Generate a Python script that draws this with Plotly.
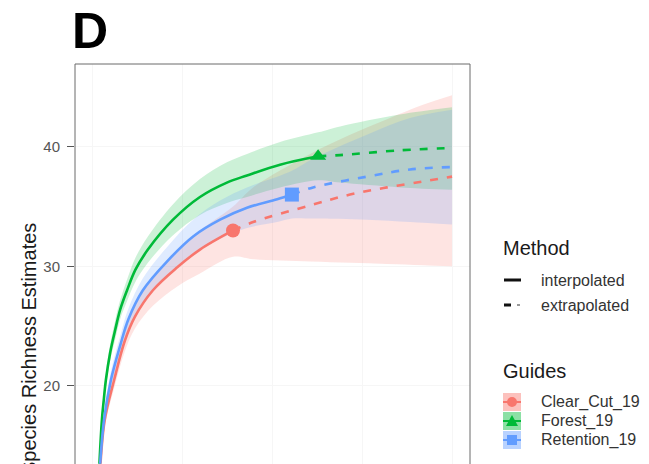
import plotly.graph_objects as go

# ---------------- data ----------------
guides = ["Clear_Cut_19", "Forest_19", "Retention_19"]
line_colors = ["#F8766D", "#00BA38", "#619CFF"]
band_colors = ["rgba(248,118,109,0.2)", "rgba(0,186,56,0.2)", "rgba(97,156,255,0.2)"]
key_colors = ["rgba(248,118,109,0.45)", "rgba(0,186,56,0.45)", "rgba(97,156,255,0.45)"]
symbols = ["circle", "triangle-up", "square"]

# Clear_Cut_19
cc_int_x = [21, 33, 59, 89, 117, 167, 234, 298, 390]
cc_int_y = [13.5, 17.2, 20.5, 23.8, 25.8, 28.0, 29.9, 31.4, 33.0]
cc_int_lo = [13.0, 16.6, 19.8, 22.9, 24.8, 26.7, 28.3, 29.4, 30.8]
cc_int_hi = [14.0, 17.8, 21.2, 24.6, 26.7, 29.1, 31.3, 33.0, 35.0]
cc_ext_x = [390, 446, 605, 716, 819, 919, 1000]
cc_ext_y = [33.0, 33.7, 35.1, 36.0, 36.6, 37.1, 37.5]
cc_ext_lo = [30.8, 30.6, 30.4, 30.3, 30.2, 30.1, 30.0]
cc_ext_hi = [35.0, 36.6, 39.4, 41.0, 42.3, 43.5, 44.3]

# Forest_19
fo_int_x = [18, 25, 30, 36, 48, 62, 76, 95, 118, 153, 223, 298, 373, 429, 521, 627]
fo_int_y = [13.5, 17.2, 18.8, 20.5, 22.8, 24.7, 26.4, 28.0, 29.7, 31.4, 33.9, 35.8, 37.0, 37.6, 38.5, 39.2]
fo_int_lo = [13.0, 16.7, 18.2, 19.9, 22.1, 23.9, 25.6, 27.1, 28.7, 30.3, 32.6, 34.3, 35.3, 35.8, 36.6, 37.2]
fo_int_hi = [14.0, 17.7, 19.4, 21.1, 23.5, 25.5, 27.2, 28.9, 30.7, 32.5, 35.2, 37.3, 38.7, 39.4, 40.4, 41.2]
fo_ext_x = [627, 688, 855, 1000]
fo_ext_y = [39.2, 39.3, 39.7, 39.9]
fo_ext_lo = [37.2, 37.0, 36.6, 36.4]
fo_ext_hi = [41.2, 41.7, 42.7, 43.3]

# Retention_19
re_int_x = [20, 31, 50, 76, 99, 139, 206, 279, 354, 429, 513, 554]
re_int_y = [13.5, 17.2, 20.5, 23.4, 25.6, 28.0, 30.4, 32.5, 33.9, 34.9, 35.6, 36.0]
re_int_lo = [13.0, 16.6, 19.8, 22.6, 24.7, 27.0, 29.2, 31.1, 32.3, 33.2, 33.7, 34.0]
re_int_hi = [14.0, 17.8, 21.2, 24.2, 26.5, 29.0, 31.6, 33.9, 35.5, 36.6, 37.5, 38.0]
re_ext_x = [554, 613, 763, 883, 1000]
re_ext_y = [36.0, 36.6, 37.5, 38.1, 38.3]
re_ext_lo = [34.0, 34.0, 33.9, 33.7, 33.5]
re_ext_hi = [38.0, 39.0, 41.0, 42.4, 43.1]

y_ticks = [20, 30, 40]
panel_label = "D"
y_title = "Species Richness Estimates"
method_title = "Method"
method_labels = ["interpolated", "extrapolated"]
guides_title = "Guides"

series = [
    (cc_int_x, cc_int_y, cc_int_lo, cc_int_hi, cc_ext_x, cc_ext_y, cc_ext_lo, cc_ext_hi),
    (fo_int_x, fo_int_y, fo_int_lo, fo_int_hi, fo_ext_x, fo_ext_y, fo_ext_lo, fo_ext_hi),
    (re_int_x, re_int_y, re_int_lo, re_int_hi, re_ext_x, re_ext_y, re_ext_lo, re_ext_hi),
]

# ---------------- layout geometry ----------------
W, H = 649, 464
L, R, T, B = 75, 470, 64, 464  # panel pixel edges (bottom is cropped)


def px(x):
    return (x - L) / (R - L)


def py(y):
    return (B - y) / (B - T)


FONT = "Liberation Sans, Arial, sans-serif"

fig = go.Figure()

# ribbons
for i, s in enumerate(series):
    ix, iy, ilo, ihi, ex, ey, elo, ehi = s
    bx = ix + ex[1:]
    blo = ilo + elo[1:]
    bhi = ihi + ehi[1:]
    fig.add_trace(go.Scatter(x=bx, y=blo, mode="lines", line=dict(width=0, shape="spline"),
                             hoverinfo="skip", showlegend=False))
    fig.add_trace(go.Scatter(x=bx, y=bhi, mode="lines", line=dict(width=0, shape="spline"),
                             fill="tonexty", fillcolor=band_colors[i],
                             hoverinfo="skip", showlegend=False))

# lines
for i, s in enumerate(series):
    ix, iy, ilo, ihi, ex, ey, elo, ehi = s
    fig.add_trace(go.Scatter(x=ex, y=ey, mode="lines",
                             line=dict(color=line_colors[i], width=2.6, dash="8px,9px", shape="spline"),
                             showlegend=False, name=guides[i]))
for i, s in enumerate(series):
    ix, iy, ilo, ihi, ex, ey, elo, ehi = s
    fig.add_trace(go.Scatter(x=ix, y=iy, mode="lines",
                             line=dict(color=line_colors[i], width=2.6, shape="spline"),
                             showlegend=False, name=guides[i]))
# observed points
for i, s in enumerate(series):
    ix, iy = s[0], s[1]
    fig.add_trace(go.Scatter(x=[ix[-1]], y=[iy[-1]], mode="markers",
                             marker=dict(color=line_colors[i], symbol=symbols[i], size=14,
                                         line=dict(width=0)),
                             showlegend=False, name=guides[i]))

shapes = []
annotations = []

# panel border (bottom edge is cropped away)
shapes.append(dict(type="rect", xref="paper", yref="paper", x0=0, x1=1, y0=-0.2, y1=1,
                   line=dict(color="#6a6a6a", width=1), fillcolor="rgba(0,0,0,0)", layer="above"))

# panel label
annotations.append(dict(text="<b>%s</b>" % panel_label, xref="paper", yref="paper",
                        x=px(70), y=py(31), xanchor="left", yanchor="middle", showarrow=False,
                        font=dict(family=FONT, size=50, color="#000000")))

# y-axis title (cropped at the bottom)
annotations.append(dict(text=y_title, xref="paper", yref="paper", x=px(29), y=py(221),
                        xanchor="center", yanchor="top", textangle=-90, showarrow=False,
                        font=dict(family=FONT, size=20, color="#1a1a1a")))

# legend: Method
annotations.append(dict(text=method_title, xref="paper", yref="paper", x=px(501), y=py(248),
                        xanchor="left", yanchor="middle", showarrow=False,
                        font=dict(family=FONT, size=20, color="#1a1a1a")))
method_y = [280, 305]
for j, lab in enumerate(method_labels):
    annotations.append(dict(text=lab, xref="paper", yref="paper", x=px(539), y=py(method_y[j]),
                            xanchor="left", yanchor="middle", showarrow=False,
                            font=dict(family=FONT, size=16, color="#333333")))
shapes.append(dict(type="line", xref="paper", yref="paper", x0=px(504), x1=px(521),
                   y0=py(280), y1=py(280), line=dict(color="#111111", width=3)))
shapes.append(dict(type="line", xref="paper", yref="paper", x0=px(504), x1=px(511),
                   y0=py(305), y1=py(305), line=dict(color="#111111", width=3)))
shapes.append(dict(type="line", xref="paper", yref="paper", x0=px(517), x1=px(520),
                   y0=py(305), y1=py(305), line=dict(color="#999999", width=2)))

# legend: Guides
annotations.append(dict(text=guides_title, xref="paper", yref="paper", x=px(501), y=py(371),
                        xanchor="left", yanchor="middle", showarrow=False,
                        font=dict(family=FONT, size=20, color="#1a1a1a")))
guide_y = [402, 421, 440]
for i, g in enumerate(guides):
    yc = guide_y[i]
    shapes.append(dict(type="rect", xref="paper", yref="paper", x0=px(503), x1=px(521),
                       y0=py(yc + 9), y1=py(yc - 9), line=dict(width=0), fillcolor=key_colors[i]))
    shapes.append(dict(type="line", xref="paper", yref="paper", x0=px(503), x1=px(521),
                       y0=py(yc), y1=py(yc), line=dict(color=line_colors[i], width=2)))
    if symbols[i] == "circle":
        shapes.append(dict(type="circle", xref="paper", yref="paper", x0=px(507), x1=px(517),
                           y0=py(yc + 5), y1=py(yc - 5), line=dict(width=0), fillcolor=line_colors[i]))
    elif symbols[i] == "square":
        shapes.append(dict(type="rect", xref="paper", yref="paper", x0=px(507), x1=px(517),
                           y0=py(yc + 5), y1=py(yc - 5), line=dict(width=0), fillcolor=line_colors[i]))
    else:
        path = "M %f %f L %f %f L %f %f Z" % (px(506), py(yc + 5), px(518), py(yc + 5), px(512), py(yc - 6))
        shapes.append(dict(type="path", xref="paper", yref="paper", path=path,
                           line=dict(width=0), fillcolor=line_colors[i]))
    annotations.append(dict(text=g, xref="paper", yref="paper", x=px(539), y=py(yc),
                            xanchor="left", yanchor="middle", showarrow=False,
                            font=dict(family=FONT, size=16, color="#333333")))

y_lo = 20 - (B - 386) / 11.96
y_hi = 40 + (146.7 - T) / 11.96

fig.update_layout(
    width=W, height=H,
    margin=dict(l=L, r=W - R, t=T, b=0, pad=0, autoexpand=False),
    paper_bgcolor="white", plot_bgcolor="white",
    showlegend=False,
    shapes=shapes, annotations=annotations,
    xaxis=dict(range=[-50, 1050], showticklabels=False, ticks="", showline=False,
               zeroline=False, showgrid=True, gridcolor="#f6f6f6", dtick=250),
    yaxis=dict(range=[y_lo, y_hi], tickvals=y_ticks, ticks="outside", ticklen=7,
               tickcolor="#555555", tickwidth=1, showline=False, zeroline=False,
               showgrid=True, gridcolor="#f6f6f6",
               tickfont=dict(family=FONT, size=15, color="#555555"), ticklabelstandoff=4),
)

fig.write_html("out.html", config={"displayModeBar": False},
               post_script="document.body.style.margin='0px';document.body.style.padding='0px';")
